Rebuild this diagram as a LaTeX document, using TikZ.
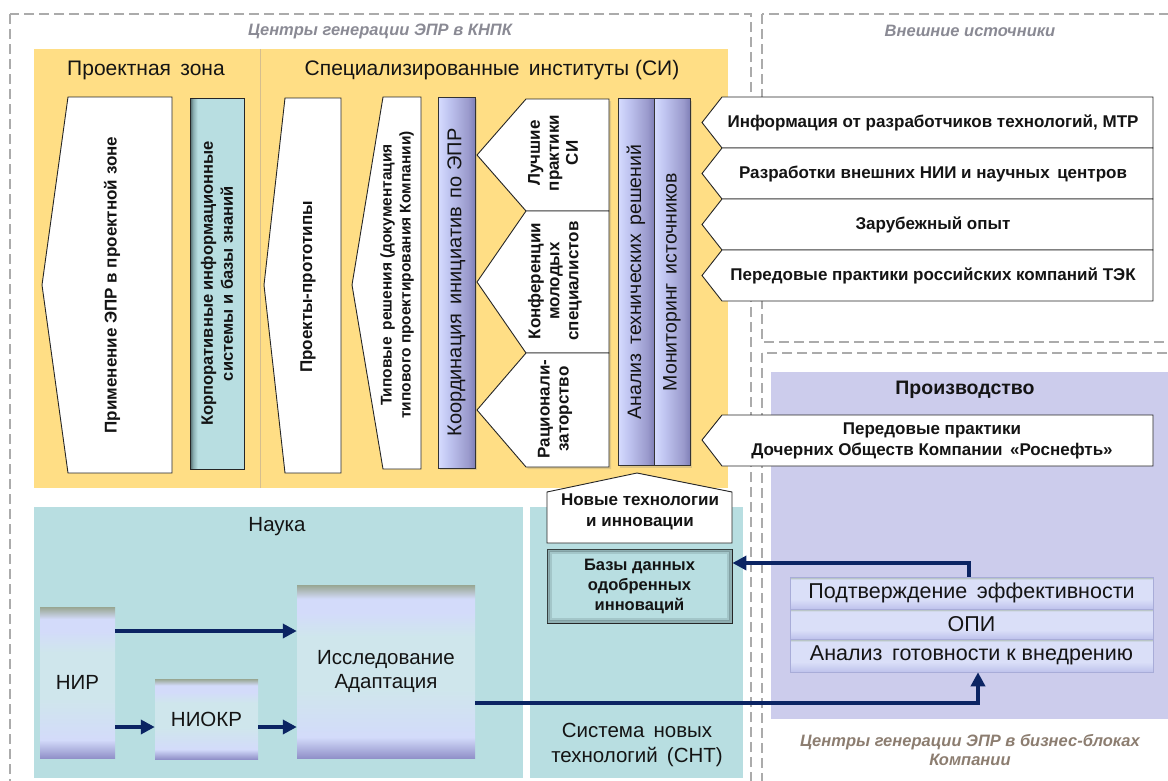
\documentclass[tikz,border=0pt]{standalone}
\usepackage{fontspec}
\setmainfont{Liberation Sans}
\usetikzlibrary{arrows.meta, positioning, shadows, calc}
\definecolor{sunzone}{HTML}{FFDE85}
\definecolor{tealzone}{HTML}{B8DEE1}
\definecolor{lavzone}{HTML}{CCCCEC}
\definecolor{navyflow}{HTML}{0B2463}
\definecolor{dashgray}{HTML}{ABABAB}
\definecolor{labelgray}{HTML}{8A8A94}
\definecolor{labelbrown}{HTML}{8C7D70}
\definecolor{tanline}{HTML}{D6BE8E}
\definecolor{inkblack}{HTML}{141414}
\definecolor{barlight}{HTML}{D6DCFF}
\definecolor{barmid}{HTML}{BFC4F0}
\definecolor{bardeep}{HTML}{9A9ACC}
\definecolor{bardark}{HTML}{8080B8}
\definecolor{scitop}{HTML}{98A692}
\definecolor{scilav}{HTML}{D3DBFA}
\definecolor{scicyan}{HTML}{CFE6EC}
\definecolor{scibot}{HTML}{9191C9}
\definecolor{corpdark}{HTML}{4F6769}
\definecolor{corpmid}{HTML}{8CB0B3}
\definecolor{stepfill}{HTML}{DADFF8}
\definecolor{steptop}{HTML}{A3B5A6}
\definecolor{stepbot}{HTML}{BEC2EC}
\definecolor{stepline}{HTML}{A8ACD8}
\pgfdeclarehorizontalshading{barshade}{100bp}{color(0bp)=(barlight); color(25bp)=(barlight); color(40bp)=(barmid); color(66bp)=(bardeep); color(75bp)=(bardark); color(100bp)=(bardark)}
\pgfdeclareverticalshading{sciblock}{100bp}{color(0bp)=(scibot); color(25bp)=(scibot); color(31bp)=(scilav); color(45bp)=(scicyan); color(60bp)=(scicyan); color(67bp)=(scilav); color(71bp)=(scilav); color(75bp)=(scitop); color(100bp)=(scitop)}
\pgfdeclarehorizontalshading{corpshade}{100bp}{color(0bp)=(corpdark); color(25bp)=(corpdark); color(28bp)=(corpmid); color(32bp)=(tealzone); color(100bp)=(tealzone)}
\pgfdeclareverticalshading{stepshade}{100bp}{color(0bp)=(stepbot); color(25bp)=(stepbot); color(40bp)=(stepfill); color(71bp)=(stepfill); color(75bp)=(steptop); color(100bp)=(steptop)}
\begin{document}
\begin{tikzpicture}[x=1pt, y=-1pt,
  every node/.style={inner sep=0pt, text=inkblack},
  zonebox/.style={draw=dashgray, line width=1.6pt, dash pattern=on 10pt off 5pt},
  zonelabel/.style={font=\fontsize{16.5}{18}\selectfont\bfseries\itshape, text=labelgray, align=center},
  headtext/.style={font=\fontsize{21}{24}\selectfont},
  card/.style={draw=black!85, line width=0.9pt, fill=white},
  cardtext/.style={font=\fontsize{17}{21}\selectfont\bfseries, align=center},
  vtext/.style={rotate=90, align=center, font=\fontsize{17}{19}\selectfont\bfseries},
  vbartext/.style={rotate=90, font=\fontsize{19.5}{22}\selectfont},
  vbar/.style={draw=black!80, line width=0.9pt, shading=barshade, minimum width=36pt, minimum height=367pt},
  sciblk/.style={shading=sciblock, font=\fontsize{20.5}{24}\selectfont, align=center},
  stepbox/.style={shading=stepshade, draw=stepline, line width=0.6pt, minimum width=363pt, font=\fontsize{21.5}{23}\selectfont},
  flow/.style={draw=navyflow, line width=4pt, -{Triangle[length=14pt, width=14pt]}},
  shadowed/.style={drop shadow={opacity=0.25, shadow xshift=2pt, shadow yshift=-2pt}}
]
\useasboundingbox (0,0) rectangle (1168,780);
\clip (0,0) rectangle (1168,780);

% Zones
\draw[zonebox] (10,14) rectangle (751,800);
\draw[zonebox] (762,14) rectangle (1200,342);
\draw[zonebox] (762,353) rectangle (1200,800);
\node[zonelabel] (knpk) at (380,31) {Центры генерации ЭПР в КНПК};
\node[zonelabel] (vnesh) at (970,31) {Внешние источники};
\node[zonelabel, text=labelbrown, font=\fontsize{16.5}{18.5}\selectfont\bfseries\itshape] (bizb) at (970,750) {Центры генерации ЭПР в бизнес-блоках\\Компании};

% Project zone and SI
\fill[sunzone] (34,49) rectangle (728,488);
\draw[tanline, line width=0.8pt] (260,49) -- (260,488);
\node[headtext] (proj) at (146,70) {Проектная\, зона};
\node[headtext] (si) at (492,70) {Специализированные\, институты (СИ)};

\draw[card] (68,97) -- (172,97) -- (172,473) -- (68,473) -- (42,285) -- cycle;
\node[vtext] (prim) at (112,285) {Применение ЭПР в проектной зоне};

\node[draw=black!85, line width=0.9pt, shading=corpshade, minimum width=54pt, minimum height=371pt] (korp) at (217,283.5) {};
\node[vtext, font=\fontsize{16.5}{20}\selectfont\bfseries] (korptxt) at (korp.center) {Корпоративные информационные\\системы и базы знаний};

\draw[card] (285,98) -- (341,98) -- (341,473) -- (285,473) -- (264,285) -- cycle;
\node[vtext] (proto) at (308,287) {Проекты-прототипы};

\draw[card] (383,97) -- (421,97) -- (421,469) -- (383,469) -- (352,285) -- cycle;
\node[vtext, font=\fontsize{15.5}{19}\selectfont\bfseries] (tipov) at (397,275) {Типовые\, решения (документация\\типового проектирования Компании)};

\node[vbar, minimum width=37pt, minimum height=371pt, shadowed] (koord) at (456.5,282.5) {};
\node[vbartext, font=\fontsize{20}{22}\selectfont] (koordtxt) at (koord.center) {Координация\, инициатив\, по ЭПР};

\draw[card, shadowed] (526,99) -- (609,99) -- (609,211) -- (526,211) -- (477,155) -- cycle;
\node[vtext] (luch) at (553,153) {Лучшие\\практики\\СИ};
\draw[card, shadowed] (526,211) -- (609,211) -- (609,353) -- (526,353) -- (477,282) -- cycle;
\node[vtext] (konf) at (555,281) {Конференции\\молодых\\специалистов};
\draw[card, shadowed] (526,353) -- (609,353) -- (609,467) -- (526,467) -- (477,410) -- cycle;
\node[vtext] (racio) at (555,409) {Рационали-\\заторство};

\node[vbar, shadowed] (anal) at (636,282) {};
\node[vbartext] (analtxt) at (anal.center) {Анализ\, технических\, решений};
\node[vbar, shadowed] (monit) at (672,282) {};
\node[vbartext] (monittxt) at (monit.center) {Мониторинг\, источников};

% External sources
\draw[card] (722,97) -- (1153,97) -- (1153,148) -- (722,148) -- (702,122.5) -- cycle;
\node[cardtext] (razr) at (933,123) {Информация от разработчиков технологий, МТР};
\draw[card] (722,148) -- (1153,148) -- (1153,199) -- (722,199) -- (702,173.5) -- cycle;
\node[cardtext] (nii) at (933,174) {Разработки внешних НИИ и научных\, центров};
\draw[card] (722,199) -- (1153,199) -- (1153,250) -- (722,250) -- (702,224.5) -- cycle;
\node[cardtext] (zarub) at (933,225) {Зарубежный опыт};
\draw[card] (722,250) -- (1153,250) -- (1153,301) -- (722,301) -- (702,275.5) -- cycle;
\node[cardtext] (tek) at (933,276) {Передовые практики российских компаний ТЭК};

% Production
\fill[lavzone] (771,372) rectangle (1200,719);
\node[font=\fontsize{19.5}{22}\selectfont\bfseries] (proizv) at (965,390) {Производство};
\draw[card] (722,415) -- (1153,415) -- (1153,466) -- (722,466) -- (702,440) -- cycle;
\node[cardtext] (dochern) at (932,441) {Передовые практики\\Дочерних Обществ Компании\, «Роснефть»};

\node[stepbox, minimum height=32pt] (podtv) at (971.5,593) {Подтверждение\, эффективности};
\node[stepbox, minimum height=30pt] (opi) at (971.5,624) {ОПИ};
\node[stepbox, minimum height=33pt] (gotov) at (971.5,655.5) {Анализ\, готовности к внедрению};

% Science and SNT
\fill[tealzone] (34,507) rectangle (523,778);
\fill[tealzone] (530,507) rectangle (743,778);
\node[headtext, font=\fontsize{20.5}{24}\selectfont] (nauka) at (277,527) {Наука};
\node[headtext, align=center, font=\fontsize{20.5}{25}\selectfont] (snt) at (637,745) {Система\, новых\\технологий\, (СНТ)};

\node[sciblk, minimum width=75pt, minimum height=151pt] (nir) at (77.5,682.5) {НИР};
\node[sciblk, minimum width=103pt, minimum height=80pt] (niokr) at (206.5,719) {НИОКР};
\node[sciblk, minimum width=178pt, minimum height=173pt] (issl) at (386,671.5) {Исследование\\Адаптация};

\draw[card] (547,492) -- (637,473) -- (732,492) -- (732,543) -- (547,543) -- cycle;
\node[cardtext] (novye) at (640,512) {Новые технологии\\и инновации};

\node[draw=black!85, line width=0.9pt, fill=tealzone, minimum width=185pt, minimum height=74pt] (bazy) at (639.5,586) {};
\draw[corpdark, opacity=0.4, line width=3pt] ([shift={(1.5pt,-1.5pt)}]bazy.north west) rectangle ([shift={(-1.5pt,1.5pt)}]bazy.south east);
\draw[corpdark, opacity=0.2, line width=3pt] ([shift={(4pt,-4pt)}]bazy.north west) rectangle ([shift={(-4pt,4pt)}]bazy.south east);
\node[cardtext, font=\fontsize{16.5}{20}\selectfont\bfseries] (bazytxt) at (bazy.center) {Базы данных\\одобренных\\инноваций};

% Flows
\draw[flow] ($(nir.east)+(0,-51.5)$) -- ($(nir.east -| issl.west)+(0,-51.5)$);
\draw[flow] ($(nir.east |- niokr.west)+(0,8)$) -- ($(niokr.west)+(0,8)$);
\draw[flow] ($(niokr.east)+(0,8)$) -- ($(niokr.east -| issl.west)+(0,8)$);
\draw[flow] ($(issl.east)+(0,31.5)$) -| ($(gotov.south)+(6.5,0)$);
\draw[flow] ($(podtv.north)+(-2.5,0)$) |- ($(bazy.east)+(0,-23)$);

\end{tikzpicture}
\end{document}
